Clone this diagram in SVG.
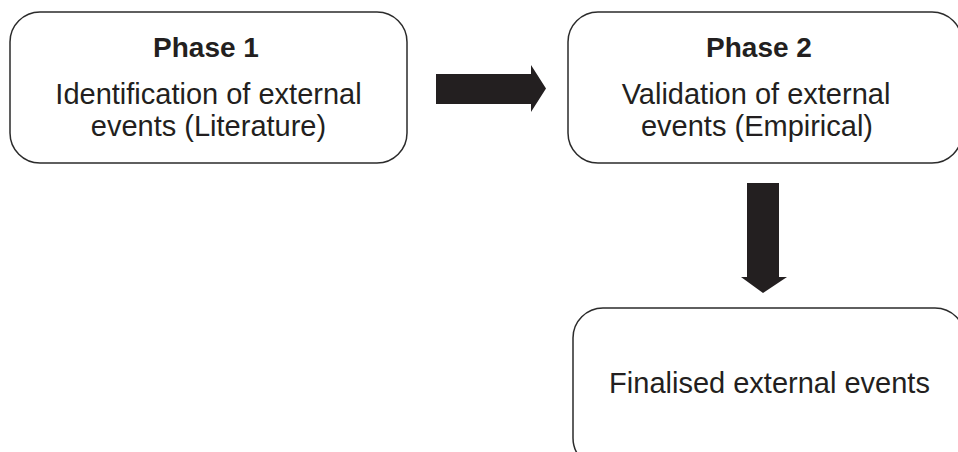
<svg xmlns="http://www.w3.org/2000/svg" width="958" height="452" viewBox="0 0 958 452">
<style>
.box{fill:#ffffff;stroke:#2b2b2b;stroke-width:1.5}
.t{font-family:"Liberation Sans",Arial,sans-serif;font-size:29px;fill:#231f20;text-anchor:middle}
.h{font-family:"Liberation Sans",Arial,sans-serif;font-size:28px;font-weight:bold;fill:#231f20;text-anchor:middle}
.arrow{fill:#231f20;stroke:none}
</style>
<rect width="958" height="452" fill="#ffffff"/>
<g id="phase1">
<rect class="box" x="10" y="12" width="397" height="151" rx="30" ry="30"/>
<text class="h" x="206" y="57">Phase 1</text>
<text class="t" x="208.5" y="104">Identification of external</text>
<text class="t" x="208.5" y="136">events (Literature)</text>
</g>
<g id="phase2">
<rect class="box" x="568" y="12" width="394" height="151" rx="30" ry="30"/>
<text class="h" x="759" y="57">Phase 2</text>
<text class="t" x="756" y="104">Validation of external</text>
<text class="t" x="757" y="136">events (Empirical)</text>
</g>
<g id="final">
<rect class="box" x="573" y="308" width="392" height="160" rx="30" ry="30"/>
<text class="t" x="769.5" y="393">Finalised external events</text>
</g>
<g id="connectors">
<path class="arrow" d="M436,74 H531 V65 L546,88.5 L531,112 V104 H436 Z"/>
<path class="arrow" d="M747,183 H779 V277 H787 L763,293 L741,277 H747 Z"/>
</g>
</svg>
